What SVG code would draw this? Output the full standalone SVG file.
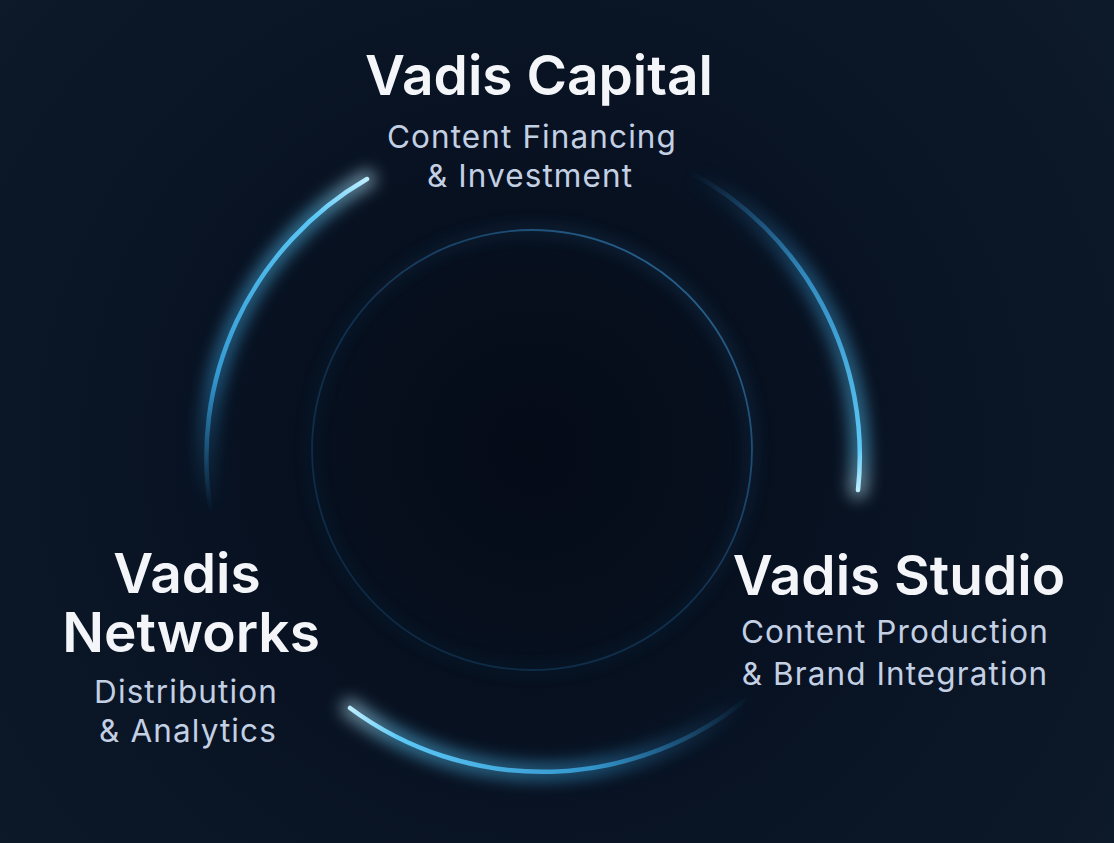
<svg xmlns="http://www.w3.org/2000/svg" width="1114" height="843" viewBox="0 0 1114 843">
<defs>
<radialGradient id="bg" cx="533" cy="450" r="720" gradientUnits="userSpaceOnUse">
<stop offset="0" stop-color="#050b17"/>
<stop offset="0.45" stop-color="#081222"/>
<stop offset="1" stop-color="#0d1a2a"/>
</radialGradient>
<filter id="glow" x="-30%" y="-30%" width="160%" height="160%">
<feGaussianBlur stdDeviation="8"/>
</filter>
<linearGradient id="gL" gradientUnits="userSpaceOnUse" x1="367" y1="179" x2="211" y2="512">
<stop offset="0" stop-color="#bdeeff"/>
<stop offset="0.15" stop-color="#5cc8f6"/>
<stop offset="0.65" stop-color="#3aa9e6" stop-opacity="0.85"/>
<stop offset="1" stop-color="#2a8fd0" stop-opacity="0"/>
</linearGradient>
<linearGradient id="gR" gradientUnits="userSpaceOnUse" x1="858" y1="490" x2="690" y2="172">
<stop offset="0" stop-color="#bdeeff"/>
<stop offset="0.1" stop-color="#5cc8f6"/>
<stop offset="0.6" stop-color="#3aa2df" stop-opacity="0.75"/>
<stop offset="1" stop-color="#2a80c0" stop-opacity="0"/>
</linearGradient>
<linearGradient id="gB" gradientUnits="userSpaceOnUse" x1="350" y1="708" x2="750" y2="696">
<stop offset="0" stop-color="#bdeeff"/>
<stop offset="0.12" stop-color="#5cc8f6"/>
<stop offset="0.6" stop-color="#3aa9e6" stop-opacity="0.8"/>
<stop offset="1" stop-color="#2a8fd0" stop-opacity="0"/>
</linearGradient>
<linearGradient id="gI" gradientUnits="userSpaceOnUse" x1="700" y1="260" x2="360" y2="640">
<stop offset="0" stop-color="#2f78ad" stop-opacity="0.8"/>
<stop offset="0.5" stop-color="#1d5582" stop-opacity="0.45"/>
<stop offset="1" stop-color="#184a72" stop-opacity="0.4"/>
</linearGradient>
<style>
.title{font-family:Inter,"Liberation Sans",sans-serif;font-weight:600;font-size:55px;fill:#f3f5f8;text-anchor:middle}
.sub{font-family:Inter,"Liberation Sans",sans-serif;font-weight:400;font-size:31.5px;letter-spacing:1.1px;fill:#c3d0e4;text-anchor:middle}
.core{fill:none;stroke-linecap:round}
</style>
</defs>
<rect width="1114" height="843" fill="url(#bg)"/>

<g id="connectors">
  <circle cx="532" cy="450" r="220" fill="none" stroke="url(#gI)" stroke-width="6" opacity="0.5" filter="url(#glow)"/>
  <circle cx="532" cy="450" r="220" fill="none" stroke="url(#gI)" stroke-width="1.8"/>

  <path d="M 367 179 A 322 322 0 0 0 211 512" class="core" stroke="url(#gL)" stroke-width="18" opacity="0.55" filter="url(#glow)"/>
  <path d="M 367 179 A 322 322 0 0 0 211 512" class="core" stroke="url(#gL)" stroke-width="4.5"/>
  <path d="M 690 172 A 322 322 0 0 1 858 490" class="core" stroke="url(#gR)" stroke-width="18" opacity="0.55" filter="url(#glow)"/>
  <path d="M 690 172 A 322 322 0 0 1 858 490" class="core" stroke="url(#gR)" stroke-width="4.5"/>
  <path d="M 350 708 A 322 322 0 0 0 750 696" class="core" stroke="url(#gB)" stroke-width="18" opacity="0.55" filter="url(#glow)"/>
  <path d="M 350 708 A 322 322 0 0 0 750 696" class="core" stroke="url(#gB)" stroke-width="4.5"/>
</g>

<g id="node-capital">
  <text class="title" x="539" y="95">Vadis Capital</text>
  <text class="sub" x="532" y="148">Content Financing</text>
  <text class="sub" x="530" y="187">&amp; Investment</text>
</g>

<g id="node-networks">
  <text class="title" x="187" y="593">Vadis</text>
  <text class="title" x="191" y="652">Networks</text>
  <text class="sub" x="186" y="703">Distribution</text>
  <text class="sub" x="188" y="742">&amp; Analytics</text>
</g>

<g id="node-studio">
  <text class="title" x="899" y="595">Vadis Studio</text>
  <text class="sub" x="895" y="643">Content Production</text>
  <text class="sub" x="895" y="685">&amp; Brand Integration</text>
</g>
</svg>
